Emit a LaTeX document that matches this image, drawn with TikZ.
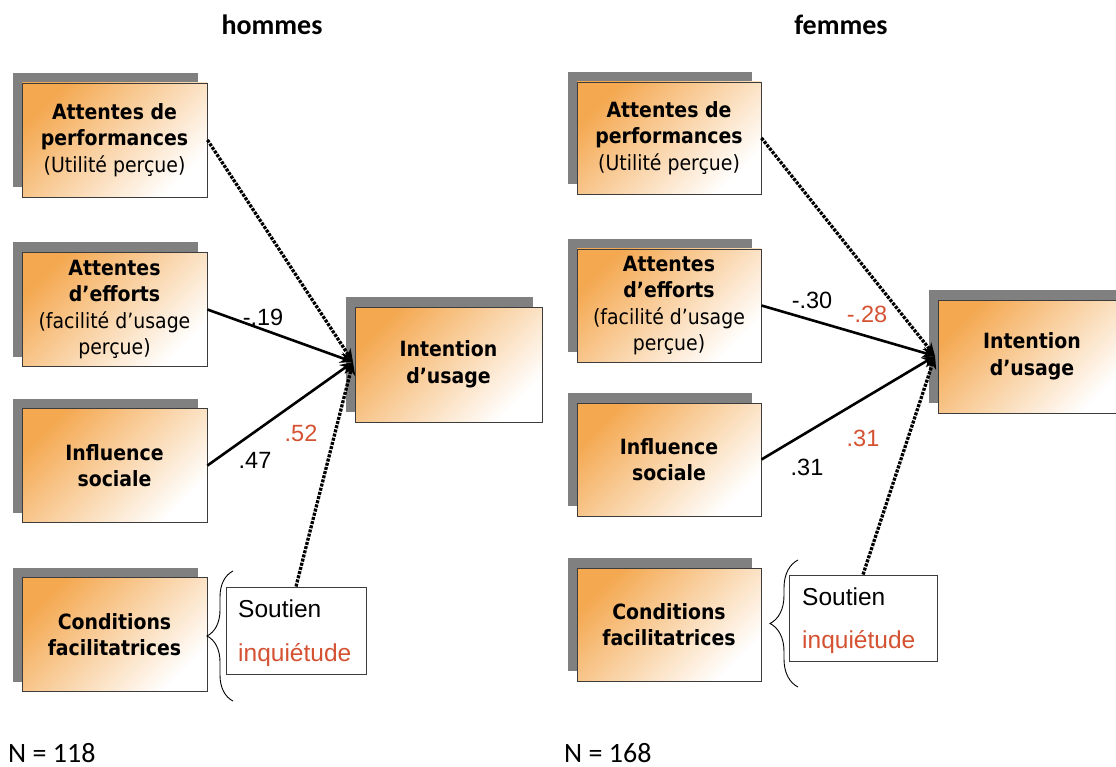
\documentclass[tikz,border=0pt]{standalone}
\usepackage{fontspec}
\setmainfont{DejaVu Sans Condensed}
\newfontfamily\numfont{Liberation Sans}
\newfontfamily\titlefont{Carlito}
\usetikzlibrary{arrows.meta,shadows,decorations.pathreplacing}
\definecolor{orangeA}{RGB}{244,168,80}
\definecolor{peach}{RGB}{251,225,203}
\definecolor{shadowgray}{RGB}{128,128,128}
\definecolor{boxborder}{RGB}{60,60,60}
\definecolor{redlab}{RGB}{212,82,50}
\tikzset{
  factor/.style={draw=boxborder, line width=0.9pt, rectangle,
    minimum width=185pt, minimum height=114pt, inner sep=0pt,
    top color=orangeA, middle color=peach, bottom color=white, shading angle=45,
    general shadow={fill=shadowgray, opacity=1, shadow xshift=-9pt, shadow yshift=10pt},
    align=center, font=\fontsize{21}{26.5}\selectfont},
  plainbox/.style={draw=boxborder, line width=0.9pt, fill=white, rectangle, inner sep=0pt},
  solidarrow/.style={line width=2.6pt, -{Stealth[length=13pt,width=11pt]}},
  dotarrow/.style={line width=3.3pt, dash pattern=on 3pt off 1.3pt, -{Stealth[length=13pt,width=11pt]}},
  coef/.style={font=\numfont\fontsize{23.5}{28}\selectfont, inner sep=0pt},
  souttext/.style={font=\numfont\fontsize{24.5}{28}\selectfont, inner sep=0pt, anchor=base west},
  bracestyle/.style={line width=0.9pt, decorate},
  title/.style={font=\titlefont\bfseries\fontsize{28}{32}\selectfont, inner sep=0pt},
  ntext/.style={font=\titlefont\fontsize{28}{32}\selectfont, inner sep=0pt, anchor=base west}
}
\begin{document}
\begin{tikzpicture}[x=1pt,y=-1pt]
\clip (0,0) rectangle (1116,767);
\useasboundingbox (0,0) rectangle (1116,767);

% ---------- hommes ----------
\node[title] (tH) at (272,25) {hommes};
\node[factor] (hA) at (114.5,140) {\textbf{Attentes de}\\\textbf{performances}\\(Utilité perçue)};
\node[factor] (hB) at (114.5,309.5) {\textbf{Attentes}\\\textbf{d’efforts}\\(facilité d’usage\\perçue)};
\node[factor] (hC) at (114.5,465.5) {\textbf{Influence}\\\textbf{sociale}};
\node[factor] (hD) at (114.5,634.5) {\textbf{Conditions}\\\textbf{facilitatrices}};
\node[factor, minimum width=187pt, minimum height=115pt] (hI) at (448.5,364.5) {\textbf{Intention}\\\textbf{d’usage}};
\node[plainbox, minimum width=140pt, minimum height=87pt] (hS) at (296,630.5) {};
\node[souttext] (hS1) at (238,617) {Soutien};
\node[souttext, text=redlab] (hS2) at (238,661) {inquiétude};
\coordinate (hT) at (353,362);
\draw[dotarrow] (hA.east) -- (hT);
\draw[solidarrow] (hB.east) -- (hT);
\draw[solidarrow] (hC.east) -- (hT);
\draw[dotarrow] (hS.north) -- (hT);
\draw[bracestyle, decoration={brace, amplitude=26pt}] (233,701) -- (233,571);
\node[coef] (hc1) at (263,317) {-.19};
\node[coef, text=redlab] (hc2) at (301,433) {.52};
\node[coef] (hc3) at (255,460) {.47};
\node[ntext] (hN) at (8,762) {N = 118};

% ---------- femmes ----------
\node[title] (tF) at (841,25) {femmes};
\node[factor, minimum width=184pt, minimum height=112pt] (fA) at (669,138) {\textbf{Attentes de}\\\textbf{performances}\\(Utilité perçue)};
\node[factor, minimum width=184pt, minimum height=113pt] (fB) at (669,305.5) {\textbf{Attentes}\\\textbf{d’efforts}\\(facilité d’usage\\perçue)};
\node[factor, minimum width=184pt, minimum height=113pt] (fC) at (669,459.5) {\textbf{Influence}\\\textbf{sociale}};
\node[factor, minimum width=184pt, minimum height=113pt] (fD) at (669,624.5) {\textbf{Conditions}\\\textbf{facilitatrices}};
\node[factor, minimum width=188pt, minimum height=113pt] (fI) at (1032,356.5) {\textbf{Intention}\\\textbf{d’usage}};
\node[plainbox, minimum width=148pt, minimum height=86pt] (fS) at (863,618) {};
\node[souttext] (fS1) at (802,605) {Soutien};
\node[souttext, text=redlab] (fS2) at (802,648) {inquiétude};
\coordinate (fT) at (935,356);
\draw[dotarrow] (fA.east) -- (fT);
\draw[solidarrow] (fB.east) -- (fT);
\draw[solidarrow] (fC.east) -- (fT);
\draw[dotarrow] (fS.north) -- (fT);
\draw[bracestyle, decoration={brace, amplitude=28pt}] (798,687) -- (798,560);
\node[coef] (fc1) at (812,300) {-.30};
\node[coef, text=redlab] (fc2) at (867,314) {-.28};
\node[coef, text=redlab] (fc3) at (863,438) {.31};
\node[coef] (fc4) at (807,467) {.31};
\node[ntext] (fN) at (564,762) {N = 168};
\end{tikzpicture}
\end{document}
